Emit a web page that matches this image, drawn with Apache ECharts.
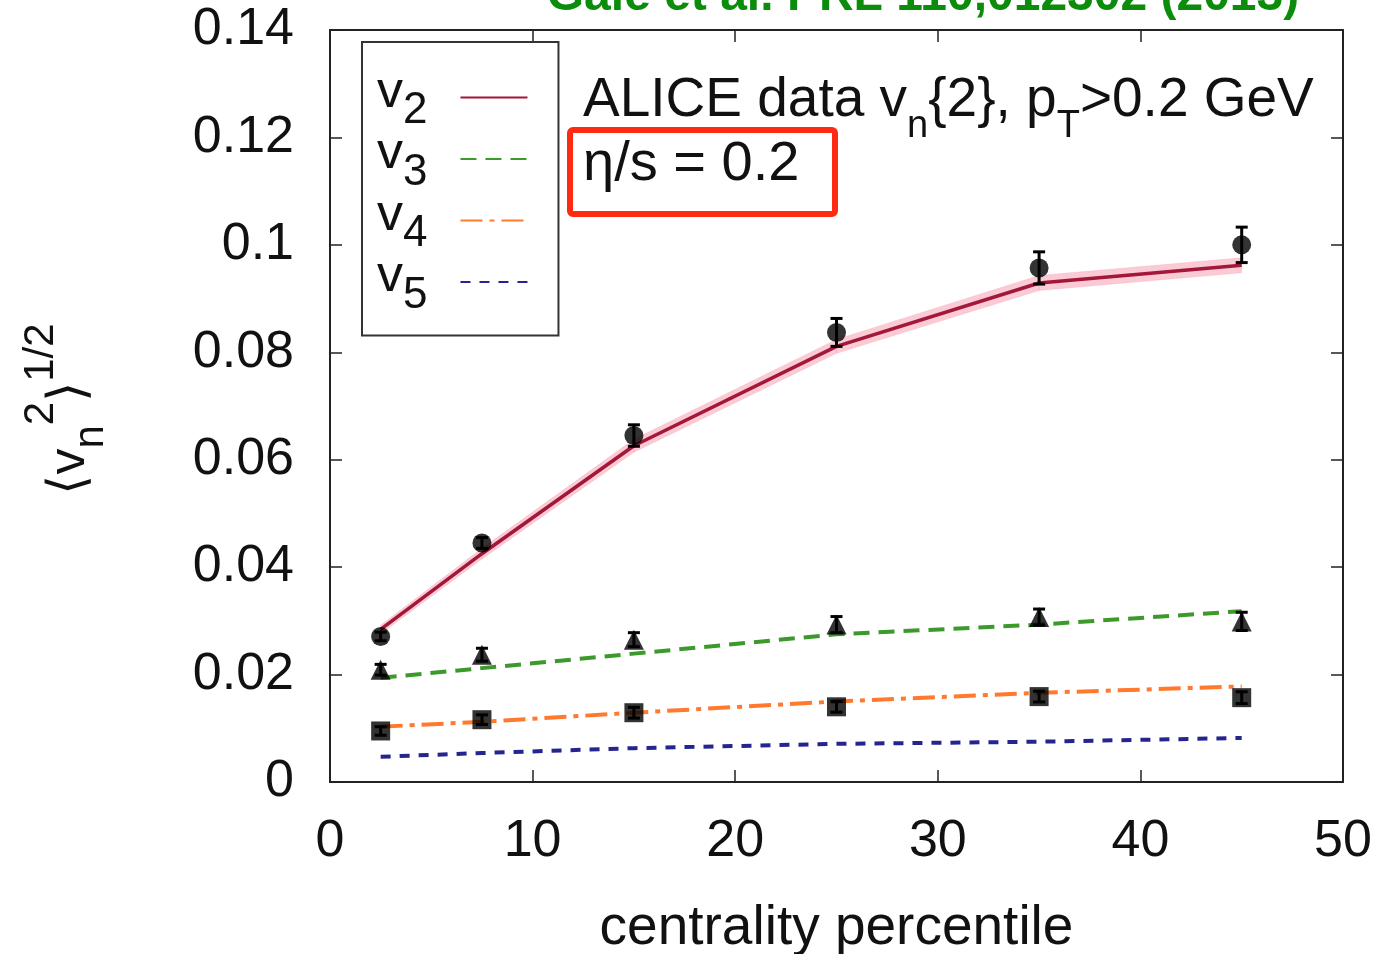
<!DOCTYPE html>
<html>
<head>
<meta charset="utf-8">
<script src="https://cdn.jsdelivr.net/npm/echarts@6/dist/echarts.min.js"></script>
<style>
  html, body { margin: 0; padding: 0; background: #ffffff; }
  #chart { width: 1400px; height: 954px; }
</style>
</head>
<body>
<div id="chart"></div>
<script>
// ---------------- data ----------------
const centrality = [2.5, 7.5, 15, 25, 35, 45];

// ALICE data v_n{2}
const v2Data = [0.0271, 0.0445, 0.0645, 0.0837, 0.0957, 0.1000];
const v2Err  = [0.0008, 0.0010, 0.0020, 0.0026, 0.0030, 0.0033];
const v3Data = [0.0209, 0.0237, 0.0265, 0.0293, 0.0307, 0.0299];
const v3Err  = [0.0010, 0.0012, 0.0013, 0.0015, 0.0015, 0.0017];
const v4Data = [0.0095, 0.0116, 0.0129, 0.0140, 0.0159, 0.0157];
const v4Err  = [0.0008, 0.0009, 0.0010, 0.0010, 0.0010, 0.0011];

// model curves (eta/s = 0.2)
const v2Curve = [0.0284, 0.0425, 0.0626, 0.0811, 0.0929, 0.0962];
const v2BandLow  = [0.0276, 0.0415, 0.0614, 0.0798, 0.0915, 0.0948];
const v2BandHigh = [0.0292, 0.0435, 0.0638, 0.0824, 0.0943, 0.0976];
const v3Curve = [0.0194, 0.0212, 0.0239, 0.0275, 0.0293, 0.0318];
const v4Curve = [0.0103, 0.0112, 0.0129, 0.0150, 0.0166, 0.0178];
const v5Curve = [0.0047, 0.0054, 0.0063, 0.0071, 0.0075, 0.0082];

const xTicks = [0, 10, 20, 30, 40, 50];
const yTicks = [0, 0.02, 0.04, 0.06, 0.08, 0.1, 0.12, 0.14];

const seriesNames = ['v2', 'v3', 'v4', 'v5'];

// ---------------- chart ----------------
const FONT = '"Liberation Sans", Arial, Helvetica, sans-serif';
const chart = echarts.init(document.getElementById('chart'), null, { renderer: 'canvas' });

const pairs = (ys) => centrality.map((x, i) => [x, ys[i]]);
const errPairs = (ys, es) => centrality.map((x, i) => [x, ys[i] - es[i], ys[i] + es[i]]);

function errorBar(params, api) {
  const x = api.value(0);
  const lo = api.coord([x, api.value(1)]);
  const hi = api.coord([x, api.value(2)]);
  const cap = 6;
  const st = { stroke: '#000', lineWidth: 3 };
  return {
    type: 'group',
    children: [
      { type: 'line', shape: { x1: lo[0], y1: lo[1], x2: hi[0], y2: hi[1] }, style: st },
      { type: 'line', shape: { x1: lo[0] - cap, y1: lo[1], x2: lo[0] + cap, y2: lo[1] }, style: st },
      { type: 'line', shape: { x1: hi[0] - cap, y1: hi[1], x2: hi[0] + cap, y2: hi[1] }, style: st }
    ]
  };
}

function bandItem(params, api) {
  const i = params.dataIndex;
  if (i >= centrality.length - 1) return null;
  const p1 = api.coord([centrality[i], v2BandLow[i]]);
  const p2 = api.coord([centrality[i + 1], v2BandLow[i + 1]]);
  const p3 = api.coord([centrality[i + 1], v2BandHigh[i + 1]]);
  const p4 = api.coord([centrality[i], v2BandHigh[i]]);
  return {
    type: 'polygon',
    shape: { points: [p1, p2, p3, p4] },
    style: { fill: 'rgba(245,140,160,0.45)', stroke: 'rgba(245,140,160,0.45)', lineWidth: 0.5 }
  };
}

const axisCommon = {
  type: 'value',
  axisLine: { show: true, onZero: false, lineStyle: { color: '#222', width: 2 } },
  axisTick: { show: true, inside: true, length: 12, lineStyle: { color: '#222', width: 1.5 } },
  splitLine: { show: false }
};

const option = {
  backgroundColor: '#ffffff',
  animation: false,
  grid: { left: 330, right: 57, top: 30, bottom: 172, containLabel: false, outerBoundsMode: 'none' },
  xAxis: [
    Object.assign({}, axisCommon, {
      min: xTicks[0], max: xTicks[xTicks.length - 1], interval: 10,
      position: 'bottom',
      axisLabel: { fontSize: 52, color: '#111', fontFamily: FONT, margin: 34 },
      name: 'centrality percentile',
      nameLocation: 'middle',
      nameGap: 119,
      nameTextStyle: { fontSize: 55, color: '#111', fontFamily: FONT }
    }),
    Object.assign({}, axisCommon, {
      min: xTicks[0], max: xTicks[xTicks.length - 1], interval: 10,
      position: 'top',
      axisLabel: { show: false }
    })
  ],
  yAxis: [
    Object.assign({}, axisCommon, {
      min: yTicks[0], max: yTicks[yTicks.length - 1], interval: 0.02,
      position: 'left',
      axisLabel: { fontSize: 52, color: '#111', fontFamily: FONT, margin: 36,
                   padding: [6, 0, 0, 0],
                   formatter: (v) => String(+v.toFixed(2)) }
    }),
    Object.assign({}, axisCommon, {
      min: yTicks[0], max: yTicks[yTicks.length - 1], interval: 0.02,
      position: 'right',
      axisLabel: { show: false }
    })
  ],
  legend: {
    data: seriesNames,
    orient: 'vertical',
    left: 362,
    top: 42,
    align: 'right',
    itemWidth: 67,
    itemHeight: 14,
    itemGap: -9.5,
    padding: [20, 30, 18, 15],
    borderColor: '#333',
    borderWidth: 2,
    backgroundColor: '#fff',
    selectedMode: false,
    itemStyle: { opacity: 0, color: 'rgba(0,0,0,0)', borderWidth: 0 },
    formatter: (n) => '{v|v}{s|' + n.slice(1) + '}',
    textStyle: {
      color: '#111',
      fontFamily: FONT,
      rich: {
        v: { fontSize: 52, lineHeight: 30, padding: [0, 0, 10, 0], fontFamily: FONT, color: '#111' },
        s: { fontSize: 44, lineHeight: 26, padding: [27, 28, 0, 0], fontFamily: FONT, color: '#111' }
      }
    }
  },
  graphic: [
    {
      type: 'text', z: 100,
      style: {
        x: 923, y: -3, text: 'Gale et al. PRL 110,012302 (2013)',
        align: 'center', verticalAlign: 'middle',
        font: 'bold 48px ' + FONT, fill: '#0b8c0b'
      }
    },
    {
      type: 'text', x: 583, y: 101, z: 100,
      style: {
        text: '{a|ALICE data v}{s|n}{a|{2}}{a|, p}{s|T}{a|>0.2 GeV}',
        align: 'left', verticalAlign: 'middle',
        font: '55px ' + FONT, fill: '#111',
        rich: {
          a: { fontSize: 55, lineHeight: 55, fontFamily: FONT, fill: '#111' },
          s: { fontSize: 38, lineHeight: 38, padding: [52, 0, 0, 0], fontFamily: FONT, fill: '#111' }
        }
      }
    },
    {
      type: 'text', x: 583, y: 165, z: 100,
      style: {
        text: 'η/s = 0.2',
        align: 'left', verticalAlign: 'middle',
        font: '56px ' + FONT, fill: '#111'
      }
    },
    {
      type: 'rect', z: 100,
      shape: { x: 570, y: 130, width: 265, height: 84, r: 3 },
      style: { fill: 'none', stroke: '#ff2a12', lineWidth: 6 }
    },
    {
      type: 'text', x: 70, y: 409, rotation: Math.PI / 2, z: 100,
      style: {
        text: '{m|⟨v}{s|n}{p|2}{m|⟩}{p|1/2}',
        align: 'center', verticalAlign: 'middle',
        font: '52px ' + FONT, fill: '#111',
        rich: {
          m: { fontSize: 52, lineHeight: 52, fontFamily: FONT, fill: '#111' },
          s: { fontSize: 42, lineHeight: 42, padding: [42, 0, 0, 0], fontFamily: FONT, fill: '#111' },
          p: { fontSize: 42, lineHeight: 42, padding: [0, 0, 58, 0], fontFamily: FONT, fill: '#111' }
        }
      }
    }
  ],
  series: [
    {
      name: 'v2 band', type: 'custom', renderItem: bandItem,
      data: centrality.map((x, i) => [x, v2BandLow[i], v2BandHigh[i]]),
      encode: { x: 0, y: [1, 2] }, silent: true, z: 1
    },
    {
      name: 'v2', type: 'line', data: pairs(v2Curve), symbol: 'none', smooth: false,
      lineStyle: { color: '#a3173a', width: 3.5 }, itemStyle: { color: '#a3173a' }, z: 3
    },
    {
      name: 'v3', type: 'line', data: pairs(v3Curve), symbol: 'none',
      lineStyle: { color: '#3c9a2c', width: 4, type: [16, 9] }, itemStyle: { color: '#3c9a2c' }, z: 3
    },
    {
      name: 'v4', type: 'line', data: pairs(v4Curve), symbol: 'none',
      lineStyle: { color: '#ff7a2e', width: 4, type: [22, 7, 5, 7] }, itemStyle: { color: '#ff7a2e' }, z: 3
    },
    {
      name: 'v5', type: 'line', data: pairs(v5Curve), symbol: 'none',
      lineStyle: { color: '#26248f', width: 4, type: [10, 9] }, itemStyle: { color: '#26248f' }, z: 3
    },
    {
      name: 'v2 err', type: 'custom', renderItem: errorBar,
      data: errPairs(v2Data, v2Err), encode: { x: 0, y: [1, 2] }, z: 5
    },
    {
      name: 'v3 err', type: 'custom', renderItem: errorBar,
      data: errPairs(v3Data, v3Err), encode: { x: 0, y: [1, 2] }, z: 5
    },
    {
      name: 'v4 err', type: 'custom', renderItem: errorBar,
      data: errPairs(v4Data, v4Err), encode: { x: 0, y: [1, 2] }, z: 5
    },
    {
      name: 'v2 data', type: 'scatter', data: pairs(v2Data), symbol: 'circle', symbolSize: 19,
      itemStyle: { color: '#000' }, z: 6
    },
    {
      name: 'v3 data', type: 'scatter', data: pairs(v3Data), symbol: 'triangle', symbolSize: 20,
      itemStyle: { color: '#000' }, z: 6
    },
    {
      name: 'v4 data', type: 'scatter', data: pairs(v4Data), symbol: 'rect', symbolSize: [19, 19],
      itemStyle: { color: '#000' }, z: 6
    }
  ]
};

chart.setOption(option);
</script>
</body>
</html>
